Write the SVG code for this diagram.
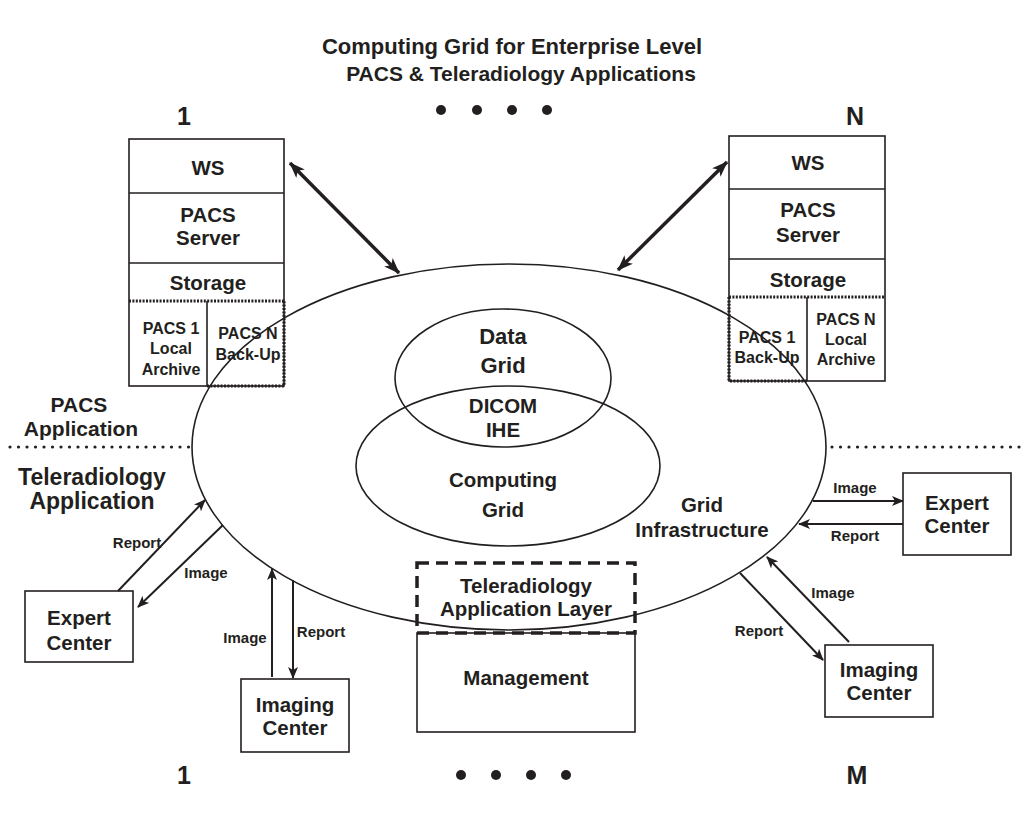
<svg xmlns="http://www.w3.org/2000/svg" width="1026" height="814" viewBox="0 0 1026 814">
  <style>
    text { font-family: "Liberation Sans", Arial, sans-serif; font-weight: bold; fill: #231f20; text-anchor: middle; }
    .title { font-size: 21px; }
    .big { font-size: 25px; }
    .lbl { font-size: 20.5px; }
    .side { font-size: 21px; }
    .side2 { font-size: 23px; }
    .sm { font-size: 16px; }
    .tiny { font-size: 15px; }
    .box { fill: #fff; stroke: #231f20; stroke-width: 1.6; }
    .ln { fill: none; stroke: #231f20; stroke-width: 1.6; }
    .dot { fill: none; stroke: #231f20; stroke-width: 3.2; stroke-dasharray: 2 1.4; }
    .sep { fill: none; stroke: #231f20; stroke-width: 3.2; stroke-linecap: round; stroke-dasharray: 0 8.5; }
    .arr { fill: none; stroke: #231f20; stroke-width: 2; marker-end: url(#ah); }
    .dbl { fill: none; stroke: #231f20; stroke-width: 3.5; marker-end: url(#ahb); marker-start: url(#ahbs); }
  </style>
  <defs>
    <marker id="ah" viewBox="0 0 12 10" refX="11" refY="5" markerWidth="12" markerHeight="10" markerUnits="userSpaceOnUse" orient="auto">
      <path d="M0,0 L12,5 L0,10 L3,5 Z" fill="#231f20"/>
    </marker>
    <marker id="ahb" viewBox="0 0 16 12" refX="15" refY="6" markerWidth="16" markerHeight="12" markerUnits="userSpaceOnUse" orient="auto">
      <path d="M0,0 L16,6 L0,12 L4,6 Z" fill="#231f20"/>
    </marker>
    <marker id="ahbs" viewBox="0 0 16 12" refX="1" refY="6" markerWidth="16" markerHeight="12" markerUnits="userSpaceOnUse" orient="auto">
      <path d="M16,0 L0,6 L16,12 L12,6 Z" fill="#231f20"/>
    </marker>
  </defs>
  <rect width="1026" height="814" fill="#fff"/>

  <!-- heading -->
  <g id="title">
    <text class="title" x="512" y="54" style="font-size:22px">Computing Grid for Enterprise Level</text>
    <text class="title" x="521" y="81">PACS &amp; Teleradiology Applications</text>
  </g>

  <!-- site numbering -->
  <g id="numbering">
    <text class="big" x="184" y="125">1</text>
    <text class="big" x="855" y="125">N</text>
    <text class="big" x="184" y="784">1</text>
    <text class="big" x="857" y="784">M</text>
    <g fill="#231f20">
      <circle cx="441" cy="110" r="5"/><circle cx="477" cy="110" r="5"/><circle cx="512" cy="110" r="5"/><circle cx="547" cy="110" r="5"/>
      <circle cx="461" cy="775" r="5"/><circle cx="496" cy="775" r="5"/><circle cx="531" cy="775" r="5"/><circle cx="566" cy="775" r="5"/>
    </g>
  </g>

  <!-- application separators -->
  <g id="separators">
    <line class="sep" x1="10" y1="447" x2="192" y2="447"/>
    <line class="sep" x1="832" y1="447" x2="1020" y2="447"/>
    <text class="side" x="79" y="412">PACS</text>
    <text class="side" x="81" y="436">Application</text>
    <text class="side2" x="92" y="485">Teleradiology</text>
    <text class="side2" x="92" y="509">Application</text>
  </g>

  <!-- left PACS site -->
  <g id="pacs1">
    <rect class="box" x="129" y="139" width="155" height="247"/>
    <line class="ln" x1="129" y1="193" x2="284" y2="193"/>
    <line class="ln" x1="129" y1="263" x2="284" y2="263"/>
    <line class="ln" x1="207" y1="301" x2="207" y2="386"/>
    <text class="lbl" x="208" y="175">WS</text>
    <text class="lbl" x="208" y="222">PACS</text>
    <text class="lbl" x="208" y="245">Server</text>
    <text class="lbl" x="208" y="290">Storage</text>
    <text class="sm" x="171" y="334">PACS 1</text>
    <text class="sm" x="171" y="354">Local</text>
    <text class="sm" x="171" y="375">Archive</text>
  </g>

  <!-- right PACS site -->
  <g id="pacsN">
    <rect class="box" x="729" y="136" width="156" height="245"/>
    <line class="ln" x1="729" y1="189" x2="885" y2="189"/>
    <line class="ln" x1="729" y1="259" x2="885" y2="259"/>
    <line class="ln" x1="807" y1="297" x2="807" y2="381"/>
    <text class="lbl" x="808" y="170">WS</text>
    <text class="lbl" x="808" y="217">PACS</text>
    <text class="lbl" x="808" y="242">Server</text>
    <text class="lbl" x="808" y="287">Storage</text>
    <text class="sm" x="846" y="325">PACS N</text>
    <text class="sm" x="846" y="345">Local</text>
    <text class="sm" x="846" y="365">Archive</text>
  </g>

  <!-- grid infrastructure -->
  <g id="grid">
    <ellipse class="ln" cx="509" cy="447" rx="317" ry="183" stroke-width="2.4"/>
    <ellipse class="ln" cx="503" cy="378" rx="108" ry="69"/>
    <ellipse class="ln" cx="508" cy="466" rx="152" ry="80"/>
    <text class="lbl" x="503" y="344" style="font-size:22px">Data</text>
    <text class="lbl" x="503" y="373" style="font-size:22px">Grid</text>
    <text class="lbl" x="503" y="413">DICOM</text>
    <text class="lbl" x="503" y="437">IHE</text>
    <text class="lbl" x="503" y="487">Computing</text>
    <text class="lbl" x="503" y="517">Grid</text>
    <text class="lbl" x="702" y="512">Grid</text>
    <text class="lbl" x="702" y="537">Infrastructure</text>
  </g>

  <!-- back-up partitions overlapping the grid -->
  <g id="backup1">
    <line class="dot" x1="129" y1="301" x2="284" y2="301"/>
    <path class="dot" d="M207,386 H284 V301"/>
    <text class="sm" x="248" y="339">PACS N</text>
    <text class="sm" x="248" y="360">Back-Up</text>
  </g>
  <g id="backupN">
    <line class="dot" x1="729" y1="297" x2="885" y2="297"/>
    <path class="dot" d="M729,297 V381 H807"/>
    <text class="sm" x="767" y="343">PACS 1</text>
    <text class="sm" x="767" y="363">Back-Up</text>
  </g>

  <!-- teleradiology layer and management -->
  <g id="mgmt">
    <rect class="box" x="417" y="633" width="218" height="99" fill="none"/>
    <text class="lbl" x="526" y="685">Management</text>
  </g>
  <g id="telelayer">
    <rect x="417" y="563" width="218" height="70" fill="none" stroke="#231f20" stroke-width="3.5" stroke-dasharray="12 7"/>
    <text class="lbl" x="526" y="593">Teleradiology</text>
    <text class="lbl" x="526" y="616">Application Layer</text>
  </g>

  <!-- remote centers -->
  <g id="expertL">
    <rect class="box" x="25" y="591" width="108" height="71"/>
    <text class="lbl" x="79" y="625">Expert</text>
    <text class="lbl" x="79" y="650">Center</text>
  </g>
  <g id="imagingL">
    <rect class="box" x="241" y="679" width="108" height="73"/>
    <text class="lbl" x="295" y="712">Imaging</text>
    <text class="lbl" x="295" y="735">Center</text>
  </g>
  <g id="expertR">
    <rect class="box" x="903" y="473" width="108" height="82"/>
    <text class="lbl" x="957" y="510">Expert</text>
    <text class="lbl" x="957" y="533">Center</text>
  </g>
  <g id="imagingR">
    <rect class="box" x="825" y="645" width="108" height="72"/>
    <text class="lbl" x="879" y="677">Imaging</text>
    <text class="lbl" x="879" y="700">Center</text>
  </g>

  <!-- connectors -->
  <g id="connectors">
    <line class="dbl" x1="290" y1="163" x2="399" y2="273"/>
    <line class="dbl" x1="727" y1="162" x2="618" y2="270"/>
    <line class="arr" x1="118" y1="591" x2="205" y2="500"/>
    <line class="arr" x1="223" y1="525" x2="138" y2="607"/>
    <line class="arr" x1="272" y1="677" x2="272" y2="569"/>
    <line class="arr" x1="293" y1="580" x2="293" y2="678"/>
    <line class="arr" x1="813" y1="501" x2="903" y2="501"/>
    <line class="arr" x1="903" y1="524" x2="799" y2="524"/>
    <line class="arr" x1="849" y1="642" x2="767" y2="557"/>
    <line class="arr" x1="740" y1="573" x2="823" y2="660"/>
  </g>
  <g id="connector-labels">
    <text class="tiny" x="137" y="548">Report</text>
    <text class="tiny" x="206" y="578">Image</text>
    <text class="tiny" x="245" y="643">Image</text>
    <text class="tiny" x="321" y="637">Report</text>
    <text class="tiny" x="855" y="493">Image</text>
    <text class="tiny" x="855" y="541">Report</text>
    <text class="tiny" x="833" y="598">Image</text>
    <text class="tiny" x="759" y="636">Report</text>
  </g>
</svg>
